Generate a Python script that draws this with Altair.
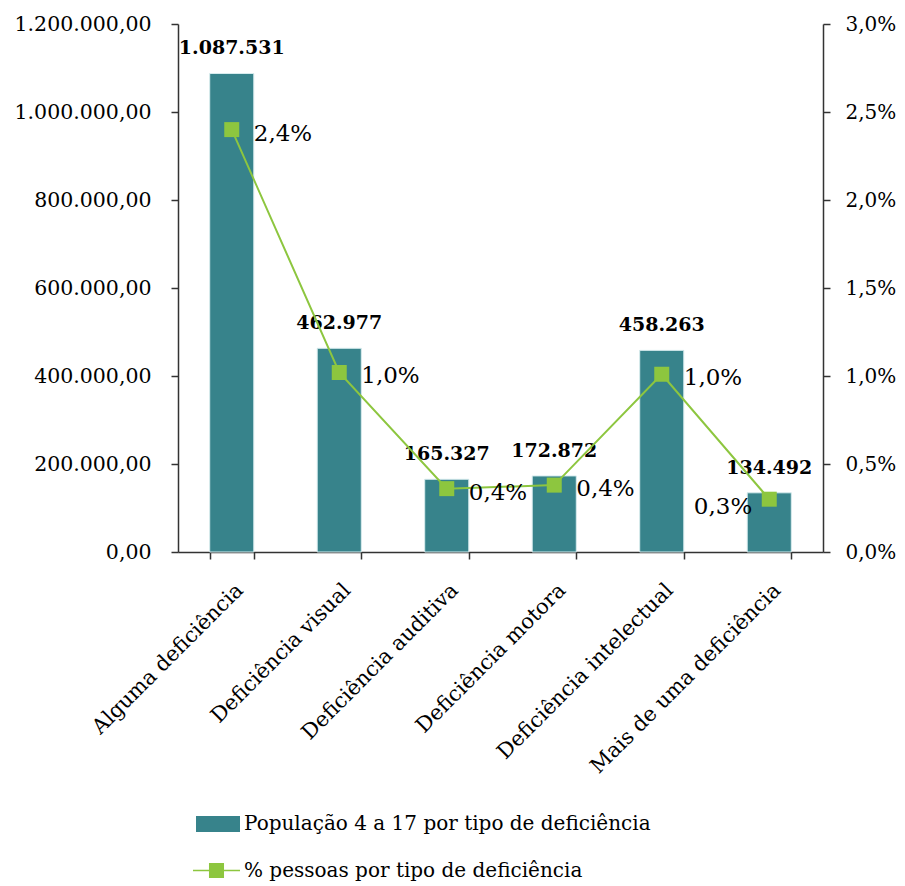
import altair as alt
import pandas as pd

categorias = [
    "Alguma deficiência",
    "Deficiência visual",
    "Deficiência auditiva",
    "Deficiência motora",
    "Deficiência intelectual",
    "Mais de uma deficiência",
]
populacao = [1087531, 462977, 165327, 172872, 458263, 134492]
percentual = [0.0240, 0.0102, 0.0036, 0.0038, 0.0101, 0.0030]

serie_barra = "População 4 a 17 por tipo de deficiência"
serie_linha = "% pessoas por tipo de deficiência"

eixo_esq = [0, 200000, 400000, 600000, 800000, 1000000, 1200000]
eixo_dir = [0, 0.005, 0.01, 0.015, 0.02, 0.025, 0.03]

df = pd.DataFrame({"categoria": categorias, "populacao": populacao, "percentual": percentual})

FONT = "DejaVu Serif"
TEAL = "#37838B"
GREEN = "#8DC63F"

x = alt.X(
    "categoria:N",
    sort=categorias,
    scale=alt.Scale(paddingInner=0.59, paddingOuter=0.295),
    axis=alt.Axis(title=None, labelAngle=-45, tickBand="extent", labelPadding=20, labelLimit=400,
                  labelFontSize=21),
)

y_left = alt.Y(
    "populacao:Q",
    scale=alt.Scale(domain=[0, 1200000], nice=False),
    axis=alt.Axis(title=None, values=eixo_esq, format=",.2f", labelPadding=20, orient="left",
                  labelFontSize=20.5),
)
y_right = alt.Y(
    "percentual:Q",
    scale=alt.Scale(domain=[0, 0.03], nice=False),
    axis=alt.Axis(title=None, values=eixo_dir, format=".1%", labelPadding=15, orient="right",
                  labelFontSize=20),
)

base = alt.Chart(df)

bar_shape = "M-1,-0.364H1V0.364H-1Z"
line_shape = "M-1,-0.03H-0.32V-0.32H0.32V-0.03H1V0.03H0.32V0.32H-0.32V0.03H-1Z"

bars = base.mark_bar(stroke="#d8ecee", strokeWidth=1).transform_calculate(
    serie=f"'{serie_barra}'"
).encode(
    x=x,
    y=y_left,
    color=alt.Color(
        "serie:N",
        scale=alt.Scale(domain=[serie_barra], range=[TEAL]),
        legend=alt.Legend(
            title=None, orient="none", legendX=18, legendY=778,
            symbolType=bar_shape, symbolSize=1936, symbolStrokeWidth=0,
            labelFontSize=20, labelFont=FONT, labelColor="black", labelLimit=600,
        ),
    ),
)

bar_labels = base.mark_text(
    font=FONT, fontSize=19, fontWeight="bold", dy=-25, baseline="middle", color="black"
).encode(x=x, y=y_left, text=alt.Text("populacao:Q", format=",d"))

left_layer = alt.layer(bars, bar_labels)

line = base.mark_line(color=GREEN, strokeWidth=2).encode(x=x, y=y_right)

points = base.mark_point(shape="square", filled=True, size=225, opacity=1).transform_calculate(
    serie=f"'{serie_linha}'"
).encode(
    x=x,
    y=y_right,
    color=alt.Color(
        "serie:N",
        scale=alt.Scale(domain=[serie_linha], range=[GREEN]),
        legend=alt.Legend(
            title=None, orient="none", legendX=15, legendY=823,
            symbolType=line_shape, symbolSize=2209, symbolStrokeWidth=0,
            labelFontSize=20, labelFont=FONT, labelColor="black", labelLimit=600,
        ),
    ),
)

pct_labels_r = base.transform_filter(
    f"datum.categoria != '{categorias[-1]}'"
).mark_text(font=FONT, fontSize=23, align="left", baseline="middle", dx=22, dy=4, color="black").encode(
    x=x, y=y_right, text=alt.Text("percentual:Q", format=".1%")
)
pct_labels_l = base.transform_filter(
    f"datum.categoria == '{categorias[-1]}'"
).mark_text(font=FONT, fontSize=23, align="right", baseline="middle", dx=-17, dy=8, color="black").encode(
    x=x, y=y_right, text=alt.Text("percentual:Q", format=".1%")
)

right_layer = alt.layer(line, points, pct_labels_r, pct_labels_l)

chart = alt.layer(left_layer, right_layer).resolve_scale(
    y="independent", color="independent"
).properties(
    width=645,
    height=528,
    padding={"left": 170, "top": 16, "right": 74, "bottom": 331},
    autosize=alt.AutoSizeParams(type="none"),
).configure_view(stroke=None).configure_axis(
    labelFont=FONT,
    labelFontSize=19,
    labelColor="black",
    domainColor="#333333",
    tickColor="#333333",
    domainWidth=1.5,
    tickWidth=1.5,
    tickSize=7,
    grid=False,
).configure_legend(padding=0)

chart.save(
    "out.html",
    embed_options={
        "renderer": "svg",
        "actions": False,
        "formatLocale": {"decimal": ",", "thousands": ".", "grouping": [3], "currency": ["R$", ""]},
    },
)
